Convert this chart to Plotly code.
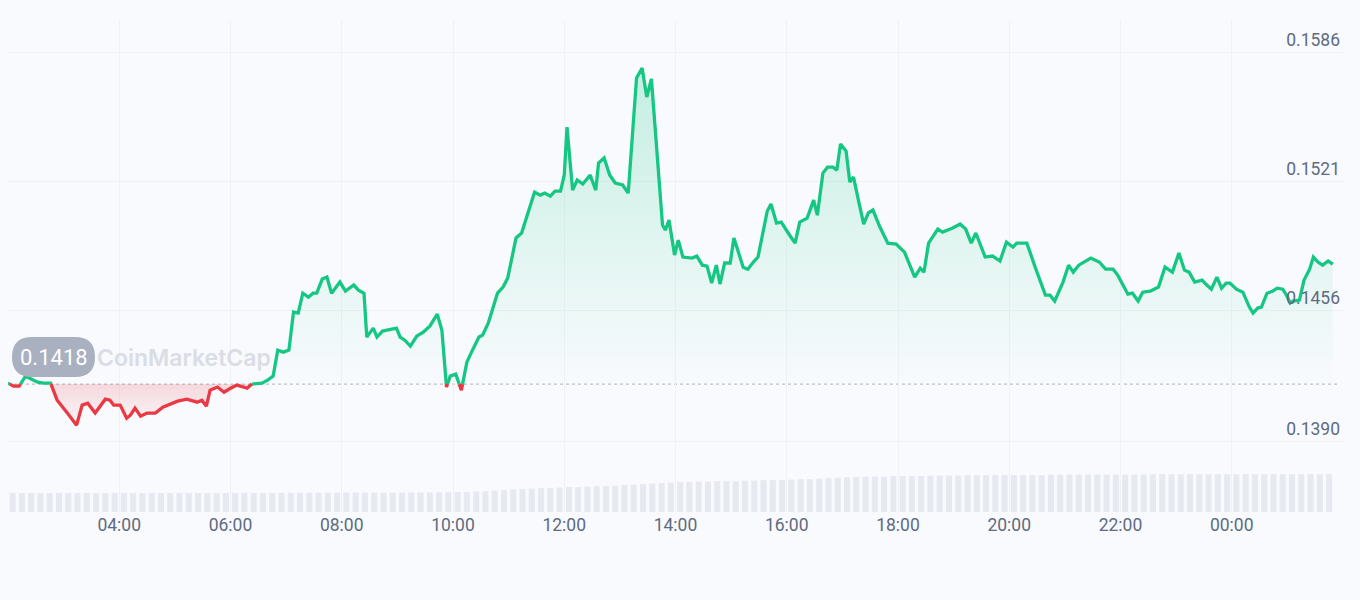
import plotly.graph_objects as go
import pandas as pd

# ---------------- data ----------------
times = [
    "02:00", "02:06", "02:12", "02:19", "02:32", "02:38", "02:46", "02:53", "03:04", "03:14",
    "03:20", "03:26", "03:34", "03:45", "03:50", "03:54", "04:01", "04:08", "04:12", "04:17",
    "04:23", "04:30", "04:39", "04:47", "05:03", "05:13", "05:24", "05:29", "05:34", "05:38",
    "05:46", "05:53", "06:00", "06:07", "06:18", "06:23", "06:34", "06:40", "06:46", "06:51",
    "06:57", "07:03", "07:08", "07:13", "07:18", "07:24", "07:29", "07:33", "07:39", "07:44",
    "07:49", "07:58", "08:04", "08:13", "08:18", "08:24", "08:27", "08:34", "08:38", "08:44",
    "08:49", "08:59", "09:03", "09:08", "09:14", "09:21", "09:28", "09:35", "09:43", "09:48",
    "09:53", "09:57", "10:03", "10:09", "10:15", "10:21", "10:28", "10:32", "10:38", "10:48",
    "10:54", "10:59", "11:08", "11:14", "11:20", "11:28", "11:34", "11:39", "11:45", "11:50",
    "11:56", "12:00", "12:03", "12:09", "12:14", "12:20", "12:28", "12:34", "12:37", "12:43",
    "12:49", "12:55", "13:03", "13:09", "13:18", "13:24", "13:29", "13:34", "13:46", "13:49",
    "13:53", "13:59", "14:03", "14:08", "14:18", "14:23", "14:29", "14:34", "14:39", "14:44",
    "14:48", "14:53", "14:59", "15:03", "15:13", "15:18", "15:24", "15:29", "15:39", "15:43",
    "15:49", "15:54", "16:03", "16:09", "16:14", "16:22", "16:29", "16:33", "16:39", "16:44",
    "16:50", "16:54", "16:58", "17:04", "17:08", "17:12", "17:18", "17:23", "17:28", "17:33",
    "17:40", "17:49", "17:58", "18:07", "18:18", "18:24", "18:28", "18:33", "18:43", "18:48",
    "18:59", "19:07", "19:13", "19:19", "19:24", "19:34", "19:42", "19:50", "19:57", "20:04",
    "20:08", "20:19", "20:28", "20:33", "20:39", "20:44", "20:49", "20:58", "21:04", "21:09",
    "21:15", "21:28", "21:37", "21:44", "21:52", "21:57", "22:05", "22:08", "22:13", "22:19",
    "22:24", "22:32", "22:41", "22:48", "22:56", "23:03", "23:09", "23:14", "23:20", "23:28",
    "23:32", "23:38", "23:44", "23:49", "23:54", "23:58", "00:05", "00:12", "00:19", "00:23",
    "00:28", "00:32", "00:38", "00:44", "00:49", "00:55", "00:59", "01:03", "01:06", "01:13",
    "01:18", "01:24", "01:28", "01:33", "01:38", "01:44", "01:49",
]

prices = [
    0.14192, 0.14177, 0.14177, 0.14227, 0.14197, 0.14192, 0.14192, 0.14106, 0.14041, 0.13980,
    0.14081, 0.14091, 0.14041, 0.14111, 0.14106, 0.14081, 0.14081, 0.14015, 0.14030, 0.14066,
    0.14025, 0.14041, 0.14041, 0.14071, 0.14101, 0.14111, 0.14096, 0.14106, 0.14076, 0.14156,
    0.14172, 0.14146, 0.14166, 0.14182, 0.14166, 0.14187, 0.14192, 0.14207, 0.14227, 0.14358,
    0.14348, 0.14358, 0.14550, 0.14545, 0.14645, 0.14625, 0.14645, 0.14645, 0.14716, 0.14726,
    0.14645, 0.14701, 0.14655, 0.14686, 0.14660, 0.14645, 0.14424, 0.14469, 0.14424, 0.14454,
    0.14459, 0.14469, 0.14424, 0.14408, 0.14378, 0.14429, 0.14449, 0.14479, 0.14539, 0.14459,
    0.14172, 0.14227, 0.14237, 0.14156, 0.14298, 0.14358, 0.14424, 0.14434, 0.14494, 0.14645,
    0.14676, 0.14721, 0.14923, 0.14948, 0.15038, 0.15154, 0.15139, 0.15149, 0.15134, 0.15159,
    0.15159, 0.15240, 0.15482, 0.15164, 0.15215, 0.15195, 0.15240, 0.15164, 0.15300, 0.15326,
    0.15240, 0.15200, 0.15190, 0.15149, 0.15729, 0.15779, 0.15633, 0.15724, 0.14988, 0.14963,
    0.15013, 0.14837, 0.14912, 0.14827, 0.14822, 0.14832, 0.14786, 0.14781, 0.14696, 0.14786,
    0.14691, 0.14797, 0.14797, 0.14923, 0.14776, 0.14766, 0.14802, 0.14827, 0.15059, 0.15094,
    0.14998, 0.15003, 0.14938, 0.14897, 0.15003, 0.15023, 0.15114, 0.15038, 0.15250, 0.15280,
    0.15280, 0.15265, 0.15396, 0.15361, 0.15205, 0.15230, 0.15099, 0.14993, 0.15049, 0.15064,
    0.14983, 0.14897, 0.14892, 0.14852, 0.14726, 0.14771, 0.14751, 0.14897, 0.14968, 0.14953,
    0.14973, 0.14993, 0.14968, 0.14897, 0.14948, 0.14827, 0.14832, 0.14807, 0.14902, 0.14877,
    0.14897, 0.14897, 0.14776, 0.14711, 0.14635, 0.14635, 0.14605, 0.14701, 0.14786, 0.14751,
    0.14786, 0.14822, 0.14802, 0.14766, 0.14766, 0.14736, 0.14660, 0.14640, 0.14645, 0.14605,
    0.14650, 0.14655, 0.14676, 0.14776, 0.14751, 0.14847, 0.14761, 0.14751, 0.14701, 0.14711,
    0.14691, 0.14665, 0.14726, 0.14670, 0.14696, 0.14696, 0.14665, 0.14650, 0.14575, 0.14545,
    0.14570, 0.14575, 0.14645, 0.14655, 0.14670, 0.14665, 0.14635, 0.14595, 0.14605, 0.14610,
    0.14711, 0.14766, 0.14827, 0.14802, 0.14786, 0.14807, 0.14791,
]

base_price = 0.14187          # opening reference (dotted line)
base_label = "0.1418"

# 24h volume (arbitrary units, 10-minute bars starting 02:00, last bar 01:40-01:50)
volume = [
    19.0, 19.0, 19.1, 19.0, 19.0, 19.1, 19.0, 19.0, 19.1, 19.0, 19.0, 19.0,
    19.1, 19.0, 19.0, 19.0, 19.1, 19.0, 19.0, 19.0, 19.1, 19.0, 19.0, 19.0,
    19.0, 19.1, 19.0, 19.0, 19.2, 19.2, 19.2, 19.3, 19.3, 19.3, 19.4, 19.4,
    19.4, 19.5, 19.5, 19.5, 19.5, 19.6, 19.6, 19.6, 19.7, 19.7, 19.8, 19.8,
    19.9, 20.2, 20.6, 21.0, 21.5, 22.0, 22.5, 23.0, 23.5, 24.0, 24.0, 24.5,
    25.0, 25.0, 25.5, 26.0, 26.0, 26.5, 27.0, 27.5, 28.0, 28.5, 29.0, 29.5,
    30.0, 30.0, 30.5, 30.5, 31.0, 31.0, 31.0, 31.5, 31.5, 32.0, 32.0, 32.0,
    32.5, 33.0, 33.0, 33.5, 34.0, 34.5, 35.0, 35.0, 35.5, 35.5, 35.5, 36.0,
    36.0, 36.0, 36.0, 36.5, 36.5, 36.5, 36.5, 37.0, 37.0, 37.0, 37.0, 37.0,
    37.0, 37.0, 37.0, 37.0, 37.5, 37.5, 37.5, 37.5, 37.5, 37.5, 37.5, 37.5,
    37.5, 37.5, 37.5, 38.0, 38.0, 38.0, 38.0, 38.0, 38.0, 38.0, 38.0, 38.0,
    38.0, 38.0, 38.0, 38.0, 38.0, 38.0, 38.0, 38.0, 38.0, 38.0, 38.0,
]

x_tick_labels = ["04:00", "06:00", "08:00", "10:00", "12:00", "14:00",
                 "16:00", "18:00", "20:00", "22:00", "00:00"]
y_tick_values = [0.1390, 0.1456, 0.1521, 0.1586]
y_tick_labels = ["0.1390", "0.1456", "0.1521", "0.1586"]

# ---------------- styling ----------------
GREEN = "#16c784"
RED = "#ea3943"
BG = "#f8fafd"
GRID = "#eef1f5"
TXT = "#5f6b80"
FONT = "Roboto"

DAY0 = pd.Timestamp("2024-05-20")


def to_ts(labels):
    out, day, prev = [], 0, None
    for s in labels:
        h, m = map(int, s.split(":"))
        t = DAY0 + pd.Timedelta(days=day, hours=h, minutes=m)
        if prev is not None and t < prev:
            day += 1
            t += pd.Timedelta(days=1)
        out.append(t)
        prev = t
    return out


ts = to_ts(times)
x_start = DAY0 + pd.Timedelta(hours=2)
x_end = x_start + pd.Timedelta(hours=24)
tick_ts = to_ts(["02:00"] + x_tick_labels)[1:]
vol_ts = pd.date_range(x_start + pd.Timedelta(minutes=5), periods=len(volume), freq="10min")

# split the line where it crosses the reference price (geometry only)
aug_t, aug_p = [ts[0]], [prices[0]]
for i in range(1, len(prices)):
    p0, p1 = prices[i - 1], prices[i]
    if (p0 - base_price) * (p1 - base_price) < 0:
        f = (base_price - p0) / (p1 - p0)
        aug_t.append(ts[i - 1] + (ts[i] - ts[i - 1]) * f)
        aug_p.append(base_price)
    aug_t.append(ts[i])
    aug_p.append(prices[i])

green_line = [p if p >= base_price else None for p in aug_p]
red_line = [p if p <= base_price else None for p in aug_p]
green_fill = [max(p, base_price) for p in aug_p]
red_fill = [min(p, base_price) for p in aug_p]
base_series = [base_price] * len(aug_p)

fig = go.Figure()

# volume bars (secondary axis, bottom strip)
fig.add_trace(go.Bar(x=vol_ts, y=volume, yaxis="y2", marker=dict(color="#e7e9f1", line=dict(width=0)),
                     hoverinfo="skip", showlegend=False))

# green area
fig.add_trace(go.Scatter(x=aug_t, y=base_series, mode="lines", line=dict(width=0),
                         hoverinfo="skip", showlegend=False))
fig.add_trace(go.Scatter(x=aug_t, y=green_fill, mode="lines", line=dict(width=0), fill="tonexty",
                         fillgradient=dict(type="vertical", start=base_price, stop=0.1586,
                                           colorscale=[[0, "rgba(22,199,132,0.0)"],
                                                       [1, "rgba(22,199,132,0.24)"]]),
                         hoverinfo="skip", showlegend=False))
# red area
fig.add_trace(go.Scatter(x=aug_t, y=base_series, mode="lines", line=dict(width=0),
                         hoverinfo="skip", showlegend=False))
fig.add_trace(go.Scatter(x=aug_t, y=red_fill, mode="lines", line=dict(width=0), fill="tonexty",
                         fillgradient=dict(type="vertical", start=0.1398, stop=base_price,
                                           colorscale=[[0, "rgba(234,57,67,0.02)"],
                                                       [1, "rgba(234,57,67,0.17)"]]),
                         hoverinfo="skip", showlegend=False))

# lines
fig.add_trace(go.Scatter(x=aug_t, y=green_line, mode="lines", line=dict(color=GREEN, width=3.3),
                         connectgaps=False, showlegend=False, name="Price"))
fig.add_trace(go.Scatter(x=aug_t, y=red_line, mode="lines", line=dict(color=RED, width=3.3),
                         connectgaps=False, showlegend=False, name="Price"))

# plot-area geometry helpers (pixels -> paper)
L, R, T, B = 8, 1343, 20, 512


def pxx(x):
    return (x - L) / (R - L)


def pxy(y):
    return (B - y) / (B - T)


def pill_path(x0, y0, x1, y1, r):
    pts = [
        ("M", [(x0 + r, y0)]), ("L", [(x1 - r, y0)]), ("Q", [(x1, y0), (x1, y0 + r)]),
        ("L", [(x1, y1 - r)]), ("Q", [(x1, y1), (x1 - r, y1)]), ("L", [(x0 + r, y1)]),
        ("Q", [(x0, y1), (x0, y1 - r)]), ("L", [(x0, y0 + r)]), ("Q", [(x0, y0), (x0 + r, y0)]),
    ]
    s = ""
    for cmd, ps in pts:
        s += cmd + " " + " ".join(f"{pxx(a):.5f},{pxy(b):.5f}" for a, b in ps) + " "
    return s + "Z"


shapes = [
    dict(type="line", xref="paper", yref="y", x0=0, x1=0.996, y0=base_price, y1=base_price,
         line=dict(color="#b9c0cc", width=1.3, dash="dot"), layer="below"),
    dict(type="path", xref="paper", yref="paper", path=pill_path(12, 337, 95, 377, 20),
         fillcolor="#a9b0bf", line=dict(width=0), layer="above"),
]

annotations = [
    dict(xref="paper", yref="paper", x=pxx(95), y=pxy(358), xanchor="left", yanchor="middle",
         text="CoinMarketCap", showarrow=False,
         font=dict(family="Inter", size=23, color="#dadde5", weight=600)),
    dict(xref="paper", yref="paper", x=pxx(53.5), y=pxy(357), xanchor="center", yanchor="middle",
         text=base_label, showarrow=False, font=dict(family=FONT, size=22, color="#ffffff")),
]

price_top = 0.1586 + (52 - T) / 19850
price_bottom = 0.1586 - (B - 52) / 19850

fig.update_layout(
    width=1360, height=600,
    margin=dict(l=L, r=1360 - R, t=T, b=600 - B, autoexpand=False),
    paper_bgcolor=BG, plot_bgcolor=BG,
    showlegend=False, hovermode=False, bargap=0.35,
    font=dict(family=FONT, color=TXT, size=17.5),
    xaxis=dict(range=[x_start, x_end], tickvals=tick_ts, ticktext=x_tick_labels,
               showgrid=True, gridcolor=GRID, gridwidth=1, zeroline=False, showline=False,
               ticks="", tickfont=dict(size=17.5, color=TXT), automargin=False, fixedrange=True),
    yaxis=dict(range=[price_bottom, price_top], side="right", tickvals=y_tick_values,
               ticktext=y_tick_labels, ticklabelposition="inside top", showgrid=True,
               gridcolor=GRID, gridwidth=1, zeroline=False, showline=False, ticks="",
               tickfont=dict(size=17.5, color=TXT), automargin=False, fixedrange=True),
    yaxis2=dict(overlaying="y", range=[0, max(volume) * 13], visible=False, fixedrange=True),
    shapes=shapes, annotations=annotations,
)

fig.write_html(
    "out.html",
    config={"displayModeBar": False},
    post_script="document.body.style.margin='0';document.body.style.background='" + BG + "';",
)
